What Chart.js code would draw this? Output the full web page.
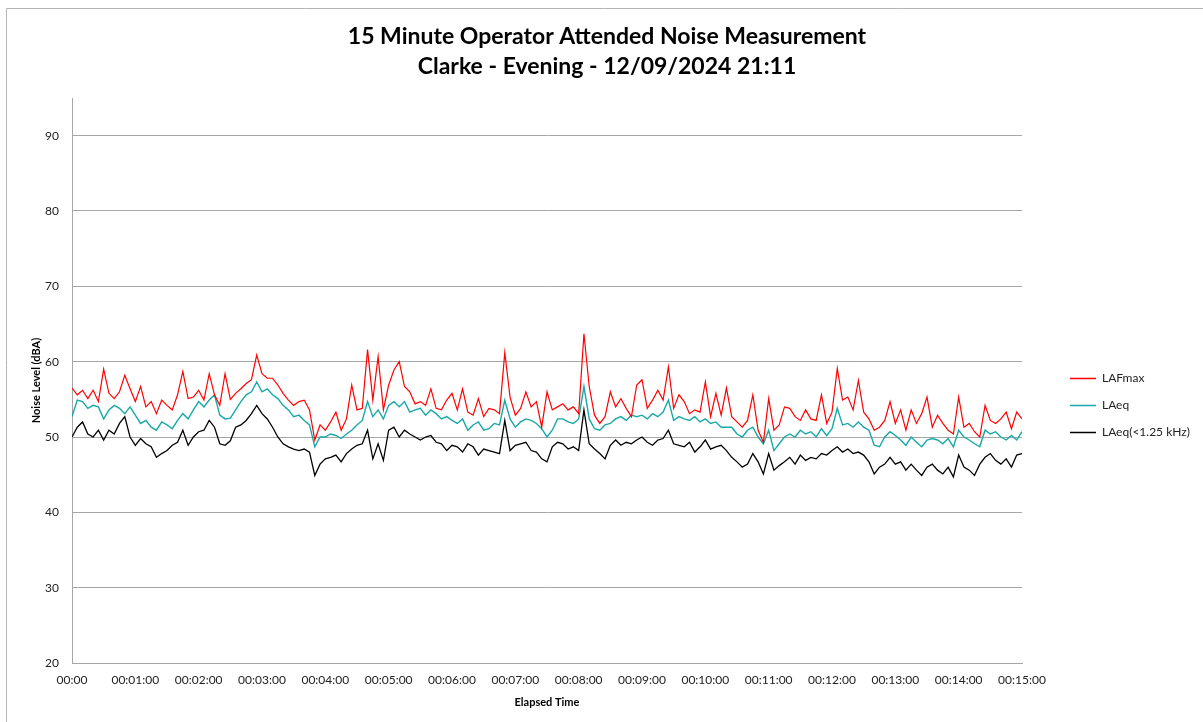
<!DOCTYPE html>
<html>
<head>
<meta charset="utf-8">
<script src="https://cdn.jsdelivr.net/npm/chart.js@4.4.1/dist/chart.umd.min.js"></script>
<style>
  html, body { margin: 0; padding: 0; background: #fff; }
  #wrap { width: 1203px; height: 722px; }
</style>
</head>
<body>
<div id="wrap"><canvas id="chart" width="1203" height="722"></canvas></div>
<script>
// Chart text
const titleLines = ['15 Minute Operator Attended Noise Measurement', 'Clarke - Evening - 12/09/2024 21:11'];
const seriesNames = ['LAFmax', 'LAeq', 'LAeq(<1.25 kHz)'];
const seriesColors = ['#ff0000', '#17a8a8', '#000000'];

// one reading every 5 seconds, 00:00 to 00:15:00
const stepSeconds = 5;

const lafmax = [
  56.5, 55.6, 56.2, 55.1, 56.2, 54.7, 59.0, 55.8, 55.1, 56.0,
  58.2, 56.4, 54.7, 56.7, 54.0, 54.7, 53.1, 54.9, 54.2, 53.6,
  55.6, 58.7, 55.1, 55.3, 56.2, 54.9, 58.4, 55.6, 54.2, 58.4,
  55.0, 55.8, 56.4, 57.1, 57.6, 60.9, 58.4, 57.8, 57.8, 56.9,
  55.8, 54.9, 54.2, 54.7, 54.9, 53.6, 49.6, 51.6, 50.9, 52.0,
  53.3, 50.9, 52.4, 56.9, 53.6, 53.8, 61.6, 54.9, 60.7, 53.6,
  56.9, 58.9, 60.0, 56.7, 56.0, 54.4, 54.7, 54.2, 56.4, 53.8,
  53.6, 54.9, 55.8, 53.6, 56.4, 53.3, 52.9, 55.1, 52.7, 53.8,
  53.6, 53.1, 61.2, 55.3, 52.9, 53.8, 56.0, 54.0, 54.7, 51.3,
  56.0, 53.6, 54.0, 54.4, 53.6, 54.0, 53.1, 63.7, 56.7, 52.9,
  51.8, 52.7, 56.0, 54.0, 55.1, 53.8, 52.7, 56.9, 57.6, 53.8,
  54.9, 56.2, 54.9, 59.3, 53.8, 55.6, 54.7, 53.1, 53.6, 53.3,
  57.3, 52.7, 55.8, 52.9, 56.5, 52.7, 52.0, 51.3, 52.2, 55.6,
  50.9, 49.3, 55.1, 50.9, 51.6, 54.0, 53.8, 52.7, 52.2, 53.6,
  52.4, 52.2, 55.6, 51.8, 53.3, 59.1, 54.9, 55.3, 53.6, 57.5,
  53.3, 52.4, 50.9, 51.3, 52.2, 54.7, 51.8, 53.6, 50.9, 53.6,
  51.8, 53.1, 55.3, 51.3, 52.9, 51.8, 50.9, 50.4, 55.3, 51.3,
  51.8, 50.7, 50.0, 54.2, 52.2, 51.8, 52.4, 53.3, 51.1, 53.3,
  52.4
];

const laeq = [
  52.7, 54.9, 54.7, 53.8, 54.2, 54.0, 52.4, 53.6, 54.2, 53.8,
  53.1, 54.0, 52.9, 51.8, 52.2, 51.3, 50.9, 52.0, 51.6, 51.1,
  52.2, 53.1, 52.4, 53.6, 54.7, 54.0, 54.9, 55.6, 52.9, 52.4,
  52.5, 53.6, 54.7, 55.6, 56.0, 57.3, 56.0, 56.4, 55.6, 55.1,
  54.2, 53.6, 52.7, 52.9, 52.2, 51.6, 48.7, 50.0, 50.0, 50.4,
  50.2, 49.8, 50.4, 50.9, 51.6, 52.2, 54.7, 52.7, 53.6, 52.4,
  54.2, 54.7, 54.0, 54.7, 53.3, 53.6, 53.8, 52.9, 53.6, 53.1,
  52.4, 52.7, 52.2, 51.8, 52.4, 50.9, 51.6, 52.0, 50.9, 51.1,
  51.8, 51.6, 54.9, 52.4, 51.3, 52.0, 52.4, 52.2, 51.8, 51.1,
  50.0, 50.9, 52.4, 52.4, 52.0, 51.8, 52.4, 56.7, 52.4, 51.1,
  50.9, 51.6, 51.8, 52.4, 52.7, 52.2, 52.9, 52.7, 52.9, 52.4,
  53.1, 52.7, 53.3, 54.9, 52.2, 52.7, 52.4, 52.2, 52.7, 52.0,
  52.4, 51.8, 52.0, 51.3, 51.3, 51.3, 50.4, 50.0, 50.9, 51.3,
  50.0, 49.1, 50.9, 48.2, 49.1, 50.0, 50.4, 50.0, 50.9, 50.4,
  50.7, 50.0, 51.1, 50.2, 51.1, 53.8, 51.6, 51.8, 51.3, 52.0,
  51.3, 50.9, 48.9, 48.7, 50.0, 50.7, 50.2, 49.6, 48.9, 50.0,
  49.3, 48.7, 49.6, 49.8, 49.6, 49.1, 49.8, 48.7, 50.9, 50.0,
  49.6, 49.1, 48.7, 50.9, 50.4, 50.7, 50.0, 49.6, 50.2, 49.6,
  50.7
];

const laeqLow = [
  50.0, 51.3, 52.0, 50.4, 50.0, 50.9, 49.6, 50.9, 50.4, 51.8,
  52.7, 50.0, 48.9, 49.8, 49.1, 48.7, 47.3, 47.8, 48.2, 48.9,
  49.3, 50.9, 48.9, 50.0, 50.7, 50.9, 52.2, 51.3, 49.1, 48.9,
  49.5, 51.3, 51.6, 52.2, 53.1, 54.2, 53.1, 52.4, 51.3, 50.0,
  49.1, 48.7, 48.4, 48.2, 48.4, 48.0, 44.9, 46.4, 47.1, 47.3,
  47.6, 46.7, 47.8, 48.4, 48.9, 49.1, 50.9, 47.1, 49.1, 46.9,
  50.9, 51.3, 50.0, 50.9, 50.4, 50.0, 49.6, 50.0, 50.2, 49.3,
  49.1, 48.2, 48.9, 48.7, 48.0, 49.1, 48.7, 47.6, 48.4, 48.2,
  48.0, 47.8, 52.2, 48.2, 48.9, 49.1, 49.3, 48.2, 48.0, 47.1,
  46.7, 48.7, 49.3, 49.1, 48.4, 48.7, 48.2, 53.6, 49.1, 48.4,
  47.8, 47.1, 48.9, 49.6, 48.9, 49.3, 49.1, 49.6, 50.0, 49.3,
  48.9, 49.6, 49.8, 50.9, 49.1, 48.9, 48.7, 49.3, 48.0, 48.7,
  49.6, 48.4, 48.7, 48.9, 48.2, 47.3, 46.7, 46.0, 46.4, 47.8,
  46.7, 45.1, 47.8, 45.6, 46.2, 46.7, 47.3, 46.4, 47.6, 46.9,
  47.3, 47.1, 47.8, 47.6, 48.2, 48.7, 48.0, 48.4, 47.8, 48.0,
  47.6, 46.7, 45.1, 46.0, 46.4, 47.3, 46.4, 46.7, 45.6, 46.4,
  45.6, 44.9, 46.0, 46.4, 45.6, 45.1, 46.0, 44.7, 47.6, 46.0,
  45.6, 44.9, 46.4, 47.3, 47.8, 46.9, 46.4, 47.1, 46.0, 47.6,
  47.8
];

// Axis ticks
const xTickLabels = ['00:00', '00:01:00', '00:02:00', '00:03:00', '00:04:00', '00:05:00', '00:06:00', '00:07:00',
  '00:08:00', '00:09:00', '00:10:00', '00:11:00', '00:12:00', '00:13:00', '00:14:00', '00:15:00'];
const yTickValues = [20, 30, 40, 50, 60, 70, 80, 90];
const yMin = 20, yMax = 95;

const FONT = 'Lato, "Open Sans", sans-serif';
const GRID = '#a6a6a6';

function toPoints(values) {
  return values.map((v, i) => ({ x: i * stepSeconds, y: v }));
}

// frame, title and legend drawn around the plot
const decorations = {
  id: 'decorations',
  beforeDraw(chart) {
    const ctx = chart.ctx;
    ctx.save();
    ctx.fillStyle = '#fff';
    ctx.fillRect(0, 0, chart.width, chart.height);
    ctx.strokeStyle = '#b4b4b4';
    ctx.lineWidth = 1;
    ctx.beginPath();
    ctx.moveTo(6.5, chart.height);
    ctx.lineTo(6.5, 8.5);
    ctx.lineTo(chart.width, 8.5);
    ctx.stroke();
    ctx.restore();
  },
  afterDraw(chart) {
    const ctx = chart.ctx;
    ctx.save();
    ctx.fillStyle = '#000';
    ctx.textAlign = 'center';
    ctx.textBaseline = 'middle';
    ctx.font = 'bold 23px ' + FONT;
    ctx.fillText(titleLines[0], 607, 37);
    ctx.fillText(titleLines[1], 607, 67);

    // legend
    ctx.font = '12px ' + FONT;
    ctx.textAlign = 'left';
    seriesNames.forEach((name, i) => {
      const y = 378 + i * 27;
      ctx.strokeStyle = seriesColors[i];
      ctx.lineWidth = 1.5;
      ctx.beginPath();
      ctx.moveTo(1070, y + 0.5);
      ctx.lineTo(1096, y + 0.5);
      ctx.stroke();
      ctx.fillStyle = '#222';
      ctx.fillText(name, 1102, y);
    });
    ctx.restore();
  }
};

const ctx = document.getElementById('chart').getContext('2d');
new Chart(ctx, {
  type: 'line',
  data: {
    datasets: [
      { label: seriesNames[0], data: toPoints(lafmax), borderColor: seriesColors[0], borderWidth: 1.2 },
      { label: seriesNames[1], data: toPoints(laeq), borderColor: seriesColors[1], borderWidth: 1.4 },
      { label: seriesNames[2], data: toPoints(laeqLow), borderColor: seriesColors[2], borderWidth: 1.3 }
    ]
  },
  options: {
    responsive: false,
    animation: false,
    devicePixelRatio: 1,
    layout: { padding: { left: 6, top: 98, right: 181, bottom: 0 } },
    elements: { point: { radius: 0 }, line: { tension: 0, fill: false } },
    plugins: {
      legend: { display: false },
      title: { display: false },
      tooltip: { enabled: false }
    },
    scales: {
      x: {
        type: 'linear',
        min: 0,
        max: 900,
        afterFit(scale) { scale.height = 59; },
        grid: { display: false, drawTicks: false },
        border: { display: true, color: GRID, width: 1 },
        ticks: {
          stepSize: 60,
          autoSkip: false,
          maxRotation: 0,
          padding: 10,
          color: '#222',
          font: { family: FONT, size: 12 },
          callback: (v) => xTickLabels[v / 60]
        },
        title: {
          display: true,
          text: 'Elapsed Time',
          color: '#000',
          font: { family: FONT, size: 11, weight: 'bold' },
          padding: { top: 0, bottom: 13 }
        }
      },
      y: {
        min: yMin,
        max: yMax,
        afterFit(scale) { scale.width = 66; },
        afterBuildTicks(scale) { scale.ticks = yTickValues.map(v => ({ value: v })); },
        grid: { color: GRID, lineWidth: 1, drawTicks: false },
        border: { display: true, color: GRID, width: 1 },
        ticks: {
          padding: 13,
          color: '#222',
          font: { family: FONT, size: 12 }
        },
        title: {
          display: true,
          text: 'Noise Level (dBA)',
          color: '#000',
          font: { family: FONT, size: 11, weight: 'bold' },
          padding: { top: 24, bottom: 0 }
        }
      }
    }
  },
  plugins: [decorations]
});
</script>
</body>
</html>
